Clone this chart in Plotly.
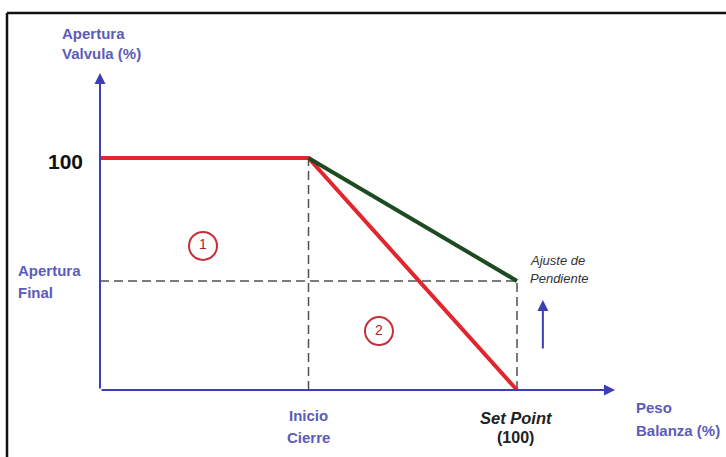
import plotly.graph_objects as go

# --- data -------------------------------------------------------------
# Peso Balanza (%) breakpoints and Apertura Valvula (%) values
inicio_cierre = 50          # x where the valve starts closing
set_point = 100             # set point of the scale weight
apertura_max = 100          # full valve opening
apertura_final = 47         # final opening after slope adjustment

curva_roja_x = [0, inicio_cierre, set_point]
curva_roja_y = [apertura_max, apertura_max, 0]

curva_verde_x = [inicio_cierre, set_point]
curva_verde_y = [apertura_max, apertura_final]

zona_x = [24.7, 66.9]
zona_y = [62.1, 25.4]
zona_txt = ["1", "2"]

eje_x_max = 123.5
eje_y_max = 136.6

# --- canvas / scale ----------------------------------------------------
W, H = 726, 457
X0_PX, Y0_PX = 100, 390          # pixel position of the origin
SX, SY = 4.17, 2.32              # pixels per unit on each axis

x_range = [-X0_PX / SX, (W - X0_PX) / SX]
y_range = [-(H - Y0_PX) / SY, Y0_PX / SY]

AXIS_BLUE = "#3d3db4"
LABEL_BLUE = "#5c5cb8"
RED = "#e3262e"
GREEN = "#1d4a21"
DASH = "#505050"
FONT = "Liberation Sans, Arial, sans-serif"

fig = go.Figure()

# dashed guide lines
guides = [
    ([inicio_cierre, inicio_cierre], [0, apertura_max]),
    ([0, set_point], [apertura_final, apertura_final]),
    ([set_point, set_point], [0, apertura_final]),
]
for gx, gy in guides:
    fig.add_trace(go.Scatter(x=gx, y=gy, mode="lines",
                             line=dict(color=DASH, width=1.5, dash="9px,5px"),
                             hoverinfo="skip"))

# closing curves
fig.add_trace(go.Scatter(x=curva_roja_x, y=curva_roja_y, mode="lines",
                         line=dict(color=RED, width=4), hoverinfo="skip"))
fig.add_trace(go.Scatter(x=curva_verde_x, y=curva_verde_y, mode="lines",
                         line=dict(color=GREEN, width=4), hoverinfo="skip"))

# zone markers
fig.add_trace(go.Scatter(x=zona_x, y=zona_y, mode="markers+text",
                         text=zona_txt, textposition="middle center",
                         textfont=dict(family=FONT, size=14, color="#b3222c"),
                         marker=dict(symbol="circle-open", size=28,
                                     color="#c4303a", line=dict(width=2)),
                         hoverinfo="skip"))

annotations = []

# axes drawn as arrows
def arrow(x0, y0, x1, y1, color, width):
    annotations.append(dict(x=x1, y=y1, ax=x0, ay=y0, xref="x", yref="y",
                            axref="x", ayref="y", text="", showarrow=True,
                            arrowhead=2, arrowsize=1.1, arrowwidth=width,
                            arrowcolor=color, standoff=0, startstandoff=0))

arrow(0, 0, eje_x_max, 0, AXIS_BLUE, 2)
arrow(0, 0, 0, eje_y_max, AXIS_BLUE, 2)
arrow(106.2, 17.2, 106.2, 38.8, AXIS_BLUE, 2)

def label(text, x, y, xanchor="center", xshift=0, yshift=0, color=LABEL_BLUE,
          size=15, bold=True, italic=False):
    t = text
    if bold:
        t = "<b>" + t + "</b>"
    if italic:
        t = "<i>" + t + "</i>"
    annotations.append(dict(x=x, y=y, xref="x", yref="y", text=t,
                            showarrow=False, xanchor=xanchor, yanchor="middle",
                            xshift=xshift, yshift=yshift,
                            font=dict(family=FONT, size=size, color=color)))

# y-axis title
label("Apertura", 0, eje_y_max, "left", -40, 40)
label("Valvula (%)", 0, eje_y_max, "left", -40, 20)
# x-axis title
label("Peso", eje_x_max, 0, "left", 19, -17)
label("Balanza (%)", eje_x_max, 0, "left", 19, -40)
# y reference values
label("100", 0, apertura_max, "right", -15, -3, color="#111111", size=21)
label("Apertura", 0, apertura_final, "left", -84, 10)
label("Final", 0, apertura_final, "left", -84, -12)
# x reference values
label("Inicio", inicio_cierre, 0, "center", 0, -25)
label("Cierre", inicio_cierre, 0, "center", 0, -47)
label("Set Point", set_point, 0, "center", -1, -28, color="#222222",
      size=16.5, italic=True)
label("(100)", set_point, 0, "center", -2, -47, color="#222222", size=16)
# slope adjustment note
label("Ajuste de", set_point, apertura_final, "left", 11, 20, color="#333333",
      size=13, bold=False, italic=True)
label("Pendiente", set_point, apertura_final, "left", 11, 2, color="#333333",
      size=13, bold=False, italic=True)

# frame: top and left edges
shapes = [
    dict(type="line", xref="paper", yref="paper",
         x0=7 / W, x1=1, y0=1 - 13 / H, y1=1 - 13 / H,
         line=dict(color="#111111", width=2.5)),
    dict(type="line", xref="paper", yref="paper",
         x0=7 / W, x1=7 / W, y0=0, y1=1 - 13 / H,
         line=dict(color="#111111", width=2.5)),
]

fig.update_layout(
    width=W, height=H,
    margin=dict(l=0, r=0, t=0, b=0),
    paper_bgcolor="white", plot_bgcolor="white",
    showlegend=False, hovermode=False,
    xaxis=dict(range=x_range, visible=False, fixedrange=True),
    yaxis=dict(range=y_range, visible=False, fixedrange=True),
    annotations=annotations, shapes=shapes,
)

fig.write_html("out.html", config={"displayModeBar": False})
